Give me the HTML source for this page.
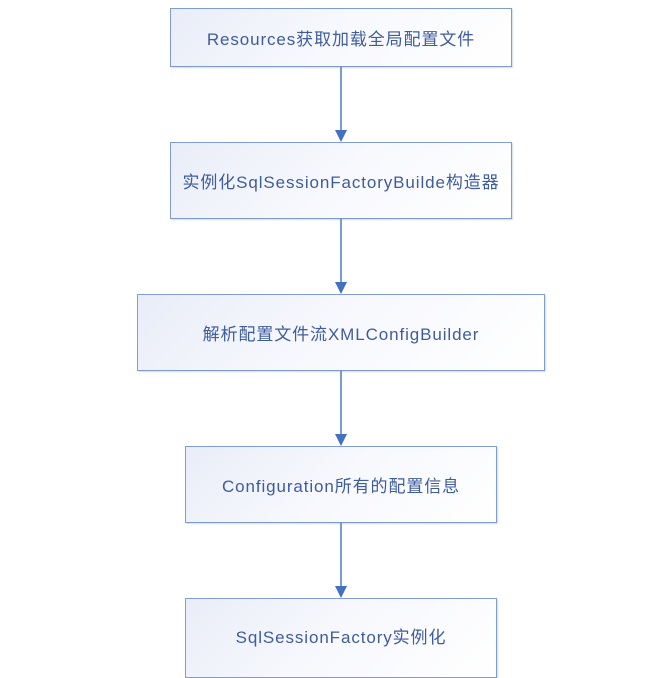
<!DOCTYPE html>
<html><head><meta charset="utf-8"><style>
body{margin:0;width:645px;height:674px;background:#fff;position:relative;overflow:hidden;font-family:"Liberation Sans","Noto Sans CJK SC",sans-serif}
.b{position:absolute;box-sizing:border-box;border:1.5px solid #7f9bd6;background:linear-gradient(135deg,#e9edf8 0%,#f7f8fd 45%,#ffffff 100%);display:flex;align-items:center;justify-content:center;color:#3e5c9e;font-size:17px;letter-spacing:0.9px;white-space:nowrap;box-shadow:1px 1px 1px rgba(120,140,190,0.3)}
</style></head><body>
<svg width="645" height="674" style="position:absolute;left:0;top:0">
<g stroke="#4f79c7" stroke-width="1.5" fill="none">
<line x1="341" y1="66" x2="341" y2="130"/>
<line x1="341" y1="218" x2="341" y2="282"/>
<line x1="341" y1="370" x2="341" y2="434"/>
<line x1="341" y1="522" x2="341" y2="586"/>
</g>
<g fill="#4470c4">
<polygon points="335,130 347,130 341,142"/>
<polygon points="335,282 347,282 341,294"/>
<polygon points="335,434 347,434 341,446"/>
<polygon points="335,586 347,586 341,598"/>
</g>
</svg>
<div class="b" style="left:170px;top:8px;width:342px;height:59px">Resources获取加载全局配置文件</div>
<div class="b" style="left:170px;top:142px;width:342px;height:77px">实例化SqlSessionFactoryBuilde构造器</div>
<div class="b" style="left:137px;top:294px;width:408px;height:77px">解析配置文件流XMLConfigBuilder</div>
<div class="b" style="left:185px;top:446px;width:312px;height:77px">Configuration所有的配置信息</div>
<div class="b" style="left:185px;top:598px;width:312px;height:80px;padding-bottom:6px">SqlSessionFactory实例化</div>
</body></html>
